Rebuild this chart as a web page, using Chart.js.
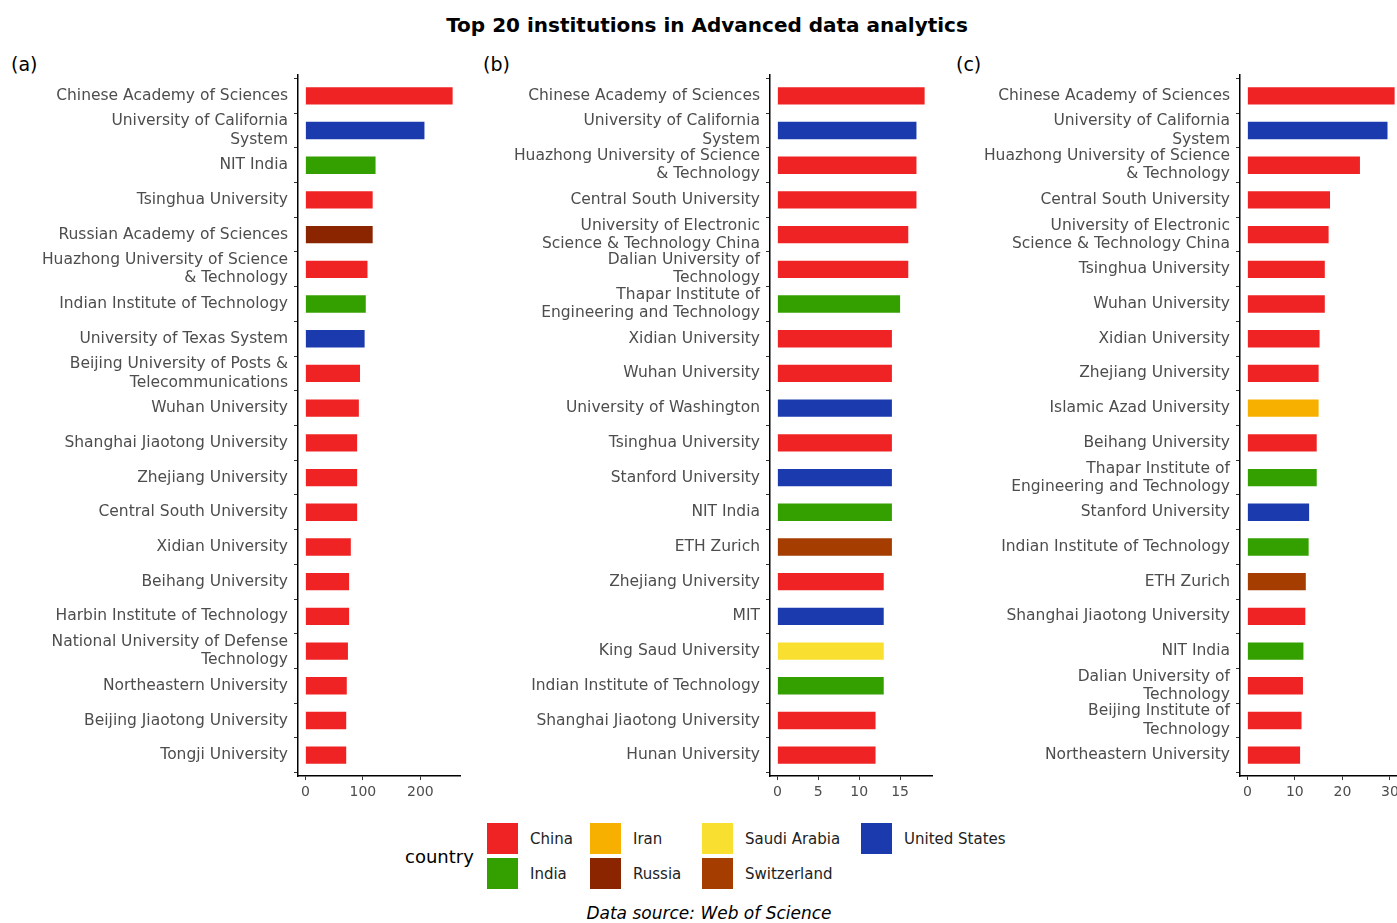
<!DOCTYPE html>
<html>
<head>
<meta charset="utf-8">
<script src="https://cdn.jsdelivr.net/npm/chart.js@4.4.1/dist/chart.umd.min.js"></script>
<style>
    body {
        margin: 0;
        width: 1397px;
        height: 923px;
        overflow: hidden;
        background: #fff;
        position: relative;
        font-family: 'DejaVu Sans', sans-serif;
    }
    #title {
        position: absolute;
        left: 0;
        width: 1414px;
        top: 13px;
        text-align: center;
        font-size: 20px;
        font-weight: bold;
        color: #000;
    }
    .tag {
        position: absolute;
        top: 53px;
        font-size: 19px;
        color: #000;
    }
    canvas {
        position: absolute;
        top: 61px;
    }
    #legend {
        position: absolute;
        left: 405px;
        top: 823px;
        display: flex;
        align-items: center;
    }
    #legendTitle {
        font-size: 18px;
        color: #000;
        width: 82px;
    }
    #legendGrid {
        display: grid;
        grid-template-rows: 31px 31px;
        grid-auto-flow: column;
        grid-template-columns: 103px 112px 159px auto;
        row-gap: 4px;
    }
    .key {
        display: flex;
        align-items: center;
        font-size: 15px;
        color: #222;
    }
    .swatch {
        width: 31px;
        height: 31px;
        margin-right: 12px;
    }
    #source {
        position: absolute;
        left: 0;
        width: 1418px;
        top: 903px;
        text-align: center;
        font-size: 17px;
        font-style: italic;
        color: #000;
    }
</style>
</head>
<body>
<div id="title">Top 20 institutions in Advanced data analytics</div>
<div class="tag" style="left:11px">(a)</div>
<div class="tag" style="left:483px">(b)</div>
<div class="tag" style="left:956px">(c)</div>
<canvas id="chartA" width="470" height="745" style="left:0px"></canvas>
<canvas id="chartB" width="472" height="745" style="left:470px"></canvas>
<canvas id="chartC" width="472" height="745" style="left:940px"></canvas>
<div id="legend"><div id="legendTitle">country</div><div id="legendGrid"></div></div>
<div id="source">Data source: Web of Science</div>

<script>
// panel (a)
const labelsA = [
    'Chinese Academy of Sciences',
    ['University of California', 'System'],
    'NIT India',
    'Tsinghua University',
    'Russian Academy of Sciences',
    ['Huazhong University of Science', '& Technology'],
    'Indian Institute of Technology',
    'University of Texas System',
    ['Beijing University of Posts &', 'Telecommunications'],
    'Wuhan University',
    'Shanghai Jiaotong University',
    'Zhejiang University',
    'Central South University',
    'Xidian University',
    'Beihang University',
    'Harbin Institute of Technology',
    ['National University of Defense', 'Technology'],
    'Northeastern University',
    'Beijing Jiaotong University',
    'Tongji University'
];
const valuesA = [256, 207, 122, 117, 117, 108, 105, 103, 95, 93, 90, 90, 90, 79, 76, 76, 74, 72, 71, 71];
const countriesA = ['China', 'United States', 'India', 'China', 'Russia', 'China', 'India', 'United States',
    'China', 'China', 'China', 'China', 'China', 'China', 'China', 'China', 'China', 'China', 'China', 'China'];
const ticksA = [0, 100, 200];

// panel (b)
const labelsB = [
    'Chinese Academy of Sciences',
    ['University of California', 'System'],
    ['Huazhong University of Science', '& Technology'],
    'Central South University',
    ['University of Electronic', 'Science & Technology China'],
    ['Dalian University of', 'Technology'],
    ['Thapar Institute of', 'Engineering and Technology'],
    'Xidian University',
    'Wuhan University',
    'University of Washington',
    'Tsinghua University',
    'Stanford University',
    'NIT India',
    'ETH Zurich',
    'Zhejiang University',
    'MIT',
    'King Saud University',
    'Indian Institute of Technology',
    'Shanghai Jiaotong University',
    'Hunan University'
];
const valuesB = [18, 17, 17, 17, 16, 16, 15, 14, 14, 14, 14, 14, 14, 14, 13, 13, 13, 13, 12, 12];
const countriesB = ['China', 'United States', 'China', 'China', 'China', 'China', 'India', 'China', 'China',
    'United States', 'China', 'United States', 'India', 'Switzerland', 'China', 'United States',
    'Saudi Arabia', 'India', 'China', 'China'];
const ticksB = [0, 5, 10, 15];

// panel (c)
const labelsC = [
    'Chinese Academy of Sciences',
    ['University of California', 'System'],
    ['Huazhong University of Science', '& Technology'],
    'Central South University',
    ['University of Electronic', 'Science & Technology China'],
    'Tsinghua University',
    'Wuhan University',
    'Xidian University',
    'Zhejiang University',
    'Islamic Azad University',
    'Beihang University',
    ['Thapar Institute of', 'Engineering and Technology'],
    'Stanford University',
    'Indian Institute of Technology',
    'ETH Zurich',
    'Shanghai Jiaotong University',
    'NIT India',
    ['Dalian University of', 'Technology'],
    ['Beijing Institute of', 'Technology'],
    'Northeastern University'
];
const valuesC = [31, 29.5, 23.7, 17.4, 17.1, 16.3, 16.3, 15.2, 15, 15, 14.6, 14.6, 13, 12.9, 12.3, 12.2, 11.8, 11.7, 11.4, 11.1];
const countriesC = ['China', 'United States', 'China', 'China', 'China', 'China', 'China', 'China', 'China',
    'Iran', 'China', 'India', 'United States', 'India', 'Switzerland', 'China', 'India', 'China', 'China', 'China'];
const ticksC = [0, 10, 20, 30];

const countryNames = ['China', 'India', 'Iran', 'Russia', 'Saudi Arabia', 'Switzerland', 'United States'];
const countryColors = {
    'China': '#EF2323',
    'India': '#33A000',
    'Iran': '#F8B000',
    'Russia': '#8B2500',
    'Saudi Arabia': '#F9DF30',
    'Switzerland': '#A53C00',
    'United States': '#1A3AAE'
};

Chart.defaults.font.family = "'DejaVu Sans', sans-serif";

function makePanel(canvasId, labels, values, countries, tickValues, yWidth) {
    const top = Math.max(...values);
    const ctx = document.getElementById(canvasId).getContext('2d');

    return new Chart(ctx, {
        type: 'bar',
        data: {
            labels: labels,
            datasets: [{
                data: values,
                backgroundColor: countries.map(c => countryColors[c]),
                barPercentage: 0.5,
                categoryPercentage: 1
            }]
        },
        options: {
            indexAxis: 'y',
            responsive: false,
            animation: false,
            layout: {
                padding: { top: 14, right: 10, bottom: 0, left: 0 }
            },
            plugins: {
                legend: { display: false },
                tooltip: { enabled: false }
            },
            scales: {
                x: {
                    min: -0.05 * top,
                    max: 1.05 * top,
                    grid: { drawOnChartArea: false, drawTicks: true, tickLength: 4, color: '#333' },
                    border: { color: '#000', width: 1.5 },
                    ticks: { color: '#4d4d4d', font: { size: 14 }, padding: 4 },
                    afterBuildTicks: scale => {
                        scale.ticks = tickValues.map(v => ({ value: v }));
                    },
                    afterFit: scale => {
                        scale.height = 30;
                        scale.paddingLeft = 0;
                        scale.paddingRight = 0;
                    }
                },
                y: {
                    grid: { drawOnChartArea: false, drawTicks: true, tickLength: 4, color: '#333' },
                    border: { color: '#000', width: 1.5 },
                    ticks: {
                        color: '#4d4d4d',
                        font: { size: 15.5, lineHeight: 1.17 },
                        padding: 6,
                        autoSkip: false
                    },
                    // ggplot style expansion of 0.6 categories on each end
                    afterBuildTicks: scale => {
                        scale._startValue = -0.6;
                        scale._valueRange = labels.length + 0.2;
                    },
                    afterFit: scale => {
                        scale.width = yWidth;
                        scale.paddingTop = 0;
                        scale.paddingBottom = 0;
                    }
                }
            }
        }
    });
}

makePanel('chartA', labelsA, valuesA, countriesA, ticksA, 298);
makePanel('chartB', labelsB, valuesB, countriesB, ticksB, 300);
makePanel('chartC', labelsC, valuesC, countriesC, ticksC, 300);

// shared legend
const grid = document.getElementById('legendGrid');
countryNames.forEach(name => {
    const key = document.createElement('div');
    key.className = 'key';
    key.innerHTML = `<div class="swatch" style="background:${countryColors[name]}"></div><span>${name}</span>`;
    grid.appendChild(key);
});
</script>
</body>
</html>
